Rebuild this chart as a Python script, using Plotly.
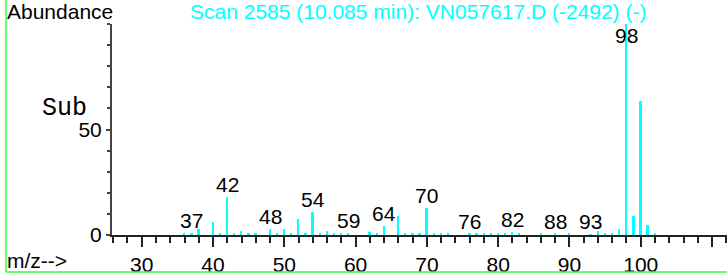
import plotly.graph_objects as go

mz = [36, 37, 38, 40, 41, 42, 43, 44, 45, 46, 48, 49, 50, 51, 52, 53, 54, 55, 56, 57,
      58, 59, 62, 63, 64, 66, 67, 68, 69, 70, 71, 72, 73, 76, 77, 78, 79, 80, 81, 82,
      83, 86, 88, 90, 93, 94, 95, 96, 97, 98, 99, 100, 101, 102]
abundance = [0.5, 0.8, 2.9, 6.0, 0.8, 18.2, 0.8, 1.9, 0.6, 0.8, 2.9, 1.1, 2.9, 0.8, 7.6, 1.1, 10.8, 1.0, 1.9, 0.6,
             0.8, 0.8, 1.6, 0.6, 4.3, 9.2, 1.0, 1.1, 0.6, 12.7, 1.0, 0.8, 0.5, 0.6, 0.5, 0.5, 0.6, 0.5, 0.6, 1.6,
             0.6, 0.5, 0.5, 0.5, 0.4, 2.0, 0.5, 1.1, 2.9, 100.0, 9.2, 63.3, 4.8, 0.5]

label_mz = [37, 42, 48, 54, 59, 64, 70, 76, 82, 88, 93, 98]

x_tickvals = [30, 40, 50, 60, 70, 80, 90, 100, 110]
x_ticktext = ["30", "40", "50", "60", "70", "80", "90", "100", ""]
y_tickvals = [0, 50]
y_ticktext = ["0", "50"]

title_text = "Scan 2585 (10.085 min): VN057617.D (-2492) (-)"

W, H = 727, 275
L, R, T, B = 112, 0, 24, 40
PW, PH = W - L - R, H - T - B

def px_x(px):
    return (px - L) / PW

def px_y(py):
    return (H - B - py) / PH

FONT = "Liberation Sans, Arial, sans-serif"
FS = 21

fig = go.Figure()
fig.add_trace(go.Bar(x=mz, y=abundance, width=0.25,
                     marker=dict(color="#00FFFF", line=dict(width=0)),
                     hoverinfo="x+y"))

ab_map = dict(zip(mz, abundance))
annotations = []
for m in label_mz:
    yv = min(ab_map.get(m, 0.5), 88.6)
    annotations.append(dict(x=m, y=yv, xref="x", yref="y", text=str(m), showarrow=False,
                            xanchor="center", yanchor="bottom", yshift=-1,
                            font=dict(family=FONT, size=FS, color="#000000")))

annotations += [
    dict(x=px_x(5), y=px_y(-2), xref="paper", yref="paper", text="Abundance", showarrow=False,
         xanchor="left", yanchor="top", font=dict(family=FONT, size=FS, color="#000000")),
    dict(x=px_x(418), y=px_y(-2), xref="paper", yref="paper", text=title_text, showarrow=False,
         xanchor="center", yanchor="top", font=dict(family=FONT, size=FS, color="#00FFFF")),
    dict(x=px_x(64), y=px_y(108), xref="paper", yref="paper", text="Sub", showarrow=False,
         xanchor="center", yanchor="middle",
         font=dict(family="Liberation Mono, Courier New, monospace", size=25, color="#000000")),
    dict(x=px_x(5), y=px_y(260), xref="paper", yref="paper", text="m/z-->", showarrow=False,
         xanchor="left", yanchor="middle", font=dict(family=FONT, size=FS, color="#000000")),
]

fig.update_layout(
    width=W, height=H,
    margin=dict(l=L, r=R, t=T, b=B, pad=0),
    paper_bgcolor="white", plot_bgcolor="white",
    showlegend=False,
    bargap=0,
    annotations=annotations,
    shapes=[
        dict(type="line", xref="paper", yref="paper", x0=px_x(6), x1=px_x(6), y0=px_y(-5), y1=px_y(272),
             line=dict(color="#33FF33", width=1.5)),
        dict(type="line", xref="paper", yref="paper", x0=px_x(6), x1=px_x(740), y0=px_y(272), y1=px_y(272),
             line=dict(color="#33FF33", width=1.5)),
    ],
    xaxis=dict(range=[25.83, 112.1], showgrid=False, zeroline=False,
               showline=True, linecolor="#222222", linewidth=2,
               tickmode="array", tickvals=x_tickvals, ticktext=x_ticktext,
               ticks="outside", ticklen=10, tickwidth=1.5, tickcolor="#222222",
               minor=dict(dtick=2, tick0=0, ticks="outside", ticklen=6, tickwidth=1.5, tickcolor="#222222"),
               tickfont=dict(family=FONT, size=FS, color="#000000")),
    yaxis=dict(range=[0, 100], showgrid=False, zeroline=False,
               showline=True, linecolor="#444444", linewidth=2,
               tickmode="array", tickvals=y_tickvals, ticktext=y_ticktext,
               ticks="outside", ticklen=4, tickwidth=1.5, tickcolor="#444444",
               minor=dict(dtick=10, tick0=0, ticks="outside", ticklen=3, tickwidth=1.5, tickcolor="#444444"),
               tickfont=dict(family=FONT, size=FS, color="#000000")),
)

fig.write_html("out.html", config={"displayModeBar": False},
               post_script="document.body.style.margin='0';document.body.style.overflow='hidden';")
